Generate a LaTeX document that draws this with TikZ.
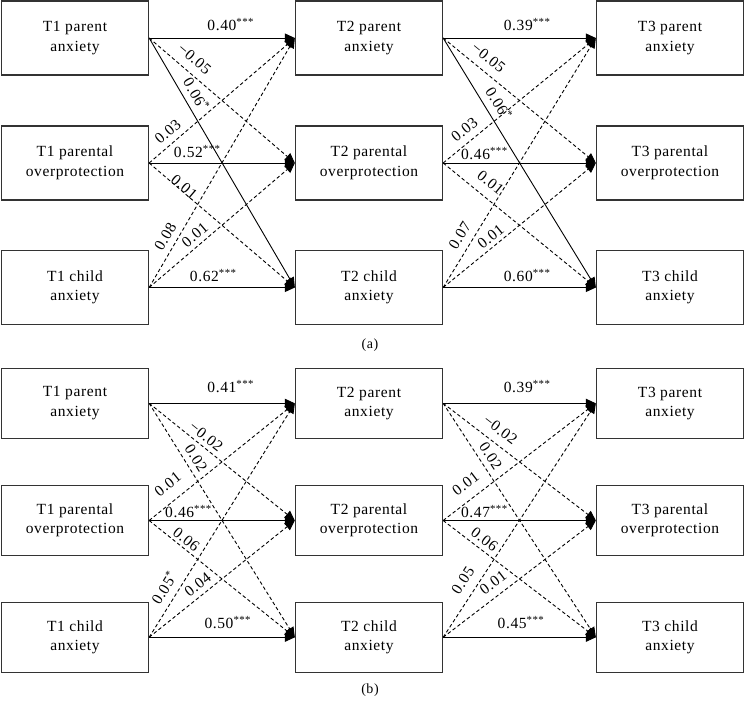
\documentclass[tikz,border=0pt]{standalone}
\usepackage{fontspec}
\setmainfont{Liberation Serif}[LetterSpace=4]
\usetikzlibrary{arrows.meta}
\newcommand\sig[1]{\textsuperscript{#1}}
\begin{document}
\begin{tikzpicture}[x=1pt,y=-1pt,
 box/.style={draw=black!80, line width=1.3pt, minimum width=147pt, minimum height=74pt, inner sep=0pt, align=center, font=\fontsize{15.5}{19.5}\selectfont},
 boxb/.style={box, minimum height=70pt},
 sol/.style={line width=0.9pt, -{Triangle[length=10pt,width=9pt]}},
 das/.style={sol, dash pattern=on 3.5pt off 2.5pt},
 lab/.style={font=\fontsize{15.5}{17}\selectfont, inner sep=0pt, sloped},
 hlab/.style={font=\fontsize{15.5}{17}\selectfont, inner sep=0pt},
]
\useasboundingbox (0,0) rectangle (745,701);
% panel (a)
\node[box] (a11) at (75,38) {T1 parent\\anxiety};
\node[box] (a12) at (75,163) {T1 parental\\overprotection};
\node[box] (a13) at (75,287.5) {T1 child\\anxiety};
\node[box] (a21) at (369,38) {T2 parent\\anxiety};
\node[box] (a22) at (369,163) {T2 parental\\overprotection};
\node[box] (a23) at (369,287.5) {T2 child\\anxiety};
\node[box] (a31) at (670,38) {T3 parent\\anxiety};
\node[box] (a32) at (670,163) {T3 parental\\overprotection};
\node[box] (a33) at (670,287.5) {T3 child\\anxiety};
\node[font=\fontsize{14}{15}\selectfont] (capa) at (370,345) {(a)};

\draw[sol] (a11.east) -- node[hlab,above=7pt,pos=0.56]{0.40\sig{***}} (a21.west);
\draw[das] (a11.east) -- node[lab,above=8pt,pos=0.25]{−0.05} (a22.west);
\draw[sol] (a11.east) -- node[lab,above=6pt,pos=0.25]{0.06\sig{*}} (a23.west);
\draw[das] (a12.east) -- node[lab,above=6pt,pos=0.18]{0.03} (a21.west);
\draw[sol] (a12.east) -- node[hlab,above=4.5pt,pos=0.33]{0.52\sig{***}} (a22.west);
\draw[das] (a12.east) -- node[lab,above=-1pt,pos=0.22]{0.01} (a23.west);
\draw[das] (a13.east) -- node[lab,above=6pt,pos=0.18]{0.08} (a21.west);
\draw[das] (a13.east) -- node[lab,above=4.5pt,pos=0.36]{0.01} (a22.west);
\draw[sol] (a13.east) -- node[hlab,above=5pt,pos=0.44]{0.62\sig{***}} (a23.west);

\draw[sol] (a21.east) -- node[hlab,above=7pt,pos=0.55]{0.39\sig{***}} (a31.west);
\draw[das] (a21.east) -- node[lab,above=8pt,pos=0.24]{−0.05} (a32.west);
\draw[sol] (a21.east) -- node[lab,above=7pt,pos=0.29]{0.06\sig{*}} (a33.west);
\draw[das] (a22.east) -- node[lab,above=6.5pt,pos=0.19]{0.03} (a31.west);
\draw[sol] (a22.east) -- node[hlab,above=3pt,pos=0.27]{0.46\sig{***}} (a32.west);
\draw[das] (a22.east) -- node[lab,above=9pt,pos=0.25]{0.01} (a33.west);
\draw[das] (a23.east) -- node[lab,above=7pt,pos=0.18]{0.07} (a31.west);
\draw[das] (a23.east) -- node[lab,above=3.5pt,pos=0.35]{0.01} (a32.west);
\draw[sol] (a23.east) -- node[hlab,above=5.5pt,pos=0.55]{0.60\sig{***}} (a33.west);

% panel (b)
\node[boxb] (b11) at (75,403.3) {T1 parent\\anxiety};
\node[boxb] (b12) at (75,520.5) {T1 parental\\overprotection};
\node[boxb] (b13) at (75,637.3) {T1 child\\anxiety};
\node[boxb] (b21) at (369,403.3) {T2 parent\\anxiety};
\node[boxb] (b22) at (369,520.5) {T2 parental\\overprotection};
\node[boxb] (b23) at (369,637.3) {T2 child\\anxiety};
\node[boxb] (b31) at (670,403.3) {T3 parent\\anxiety};
\node[boxb] (b32) at (670,520.5) {T3 parental\\overprotection};
\node[boxb] (b33) at (670,637.3) {T3 child\\anxiety};
\node[font=\fontsize{14}{15}\selectfont] (capb) at (370,690) {(b)};

\draw[sol] (b11.east) -- node[hlab,above=10pt,pos=0.56]{0.41\sig{***}} (b21.west);
\draw[das] (b11.east) -- node[lab,above=4pt,pos=0.35]{−0.02} (b22.west);
\draw[das] (b11.east) -- node[lab,above=5pt,pos=0.26]{0.02} (b23.west);
\draw[das] (b12.east) -- node[lab,above=11pt,pos=0.20]{0.01} (b21.west);
\draw[sol] (b12.east) -- node[hlab,above=2.5pt,pos=0.27]{0.46\sig{***}} (b22.west);
\draw[das] (b12.east) -- node[lab,above=2.5pt,pos=0.22]{0.06} (b23.west);
\draw[das] (b13.east) -- node[lab,above=7pt,pos=0.18]{0.05\sig{*}} (b21.west);
\draw[das] (b13.east) -- node[lab,above=5pt,pos=0.38]{0.04} (b22.west);
\draw[sol] (b13.east) -- node[hlab,above=8pt,pos=0.54]{0.50\sig{***}} (b23.west);

\draw[sol] (b21.east) -- node[hlab,above=10pt,pos=0.55]{0.39\sig{***}} (b31.west);
\draw[das] (b21.east) -- node[lab,above=8pt,pos=0.32]{−0.02} (b32.west);
\draw[das] (b21.east) -- node[lab,above=5.5pt,pos=0.25]{0.02} (b33.west);
\draw[das] (b22.east) -- node[lab,above=10pt,pos=0.21]{0.01} (b31.west);
\draw[sol] (b22.east) -- node[hlab,above=2.5pt,pos=0.27]{0.47\sig{***}} (b32.west);
\draw[das] (b22.east) -- node[lab,above=4.5pt,pos=0.23]{0.06} (b33.west);
\draw[das] (b23.east) -- node[lab,above=9pt,pos=0.21]{0.05} (b31.west);
\draw[das] (b23.east) -- node[lab,above=7.5pt,pos=0.38]{0.01} (b32.west);
\draw[sol] (b23.east) -- node[hlab,above=8pt,pos=0.51]{0.45\sig{***}} (b33.west);
\end{tikzpicture}
\end{document}
